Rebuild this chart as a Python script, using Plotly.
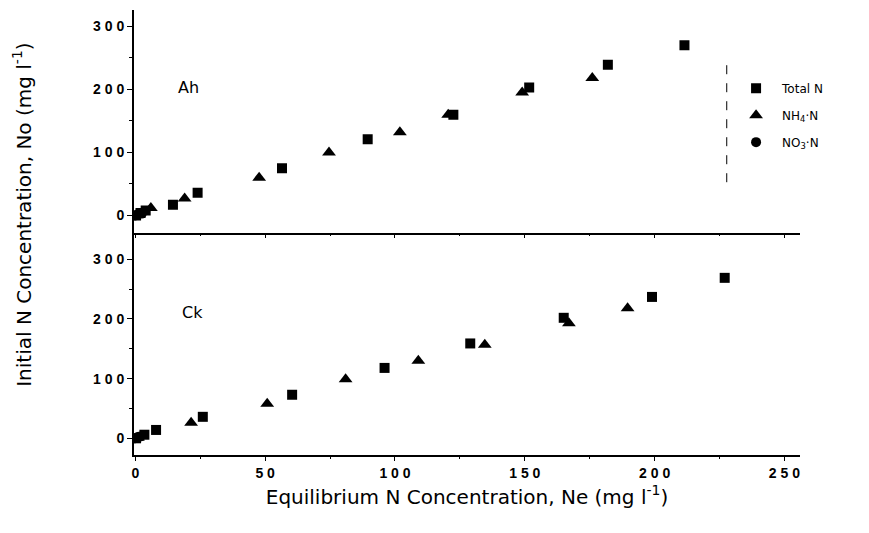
import plotly.graph_objects as go
from plotly.subplots import make_subplots

# Ah horizon: equilibrium (Ne) vs initial (No) N concentration, mg l-1
ah_total_ne = [0.3, 2.0, 4.0, 14.5, 24.0, 56.5, 89.5, 122.5, 151.7, 182.0, 211.5]
ah_total_no = [0, 4, 8, 17, 36, 75, 121, 160, 203, 239, 270]
ah_nh4_ne = [1.0, 6.0, 19.0, 47.7, 74.6, 101.9, 120.5, 149.0, 176.0]
ah_nh4_no = [1, 12, 27, 60, 100, 132, 160, 195, 218]
ah_no3_ne = [0.0, 1.0, 2.5]
ah_no3_no = [0, 2, 3]

# Ck horizon
ck_total_ne = [0.3, 3.5, 8.0, 26.0, 60.4, 96.0, 129.0, 165.0, 199.0, 227.0]
ck_total_no = [0, 6, 14, 36, 73, 118, 159, 202, 237, 269]
ck_nh4_ne = [1.0, 21.5, 50.8, 81.0, 109.0, 134.6, 167.0, 189.6]
ck_nh4_no = [1, 26, 58, 99, 130, 157, 193, 218]
ck_no3_ne = [0.0, 1.0, 2.0]
ck_no3_no = [0, 2, 3]

x_tick_vals = [0, 50, 100, 150, 200, 250]
x_tick_text = ["0", "5 0", "1 0 0", "1 5 0", "2 0 0", "2 5 0"]
y_tick_vals = [0, 100, 200, 300]
y_tick_text = ["0", "1 0 0", "2 0 0", "3 0 0"]

series_names = ["Total N", "NH<sub>4</sub>·N", "NO<sub>3</sub>·N"]
symbols = ["square", "triangle-up", "circle"]
sizes = [10, 12, 10]

fig = make_subplots(rows=2, cols=1, shared_xaxes=True, vertical_spacing=0)

panels = [
    (1, [(ah_total_ne, ah_total_no), (ah_nh4_ne, ah_nh4_no), (ah_no3_ne, ah_no3_no)]),
    (2, [(ck_total_ne, ck_total_no), (ck_nh4_ne, ck_nh4_no), (ck_no3_ne, ck_no3_no)]),
]
for row, series in panels:
    for i, (xs, ys) in enumerate(series):
        fig.add_trace(
            go.Scatter(
                x=xs, y=ys, mode="markers",
                name=series_names[i],
                legendgroup=f"g{i}",
                showlegend=(row == 1),
                marker=dict(symbol=symbols[i], size=sizes[i], color="black",
                            line=dict(width=0)),
            ),
            row=row, col=1,
        )

tick_font = dict(family="Liberation Sans, Arial", size=14, color="black", weight=600)
common_x = dict(
    range=[-0.5, 256], showline=True, linecolor="black", linewidth=1.5,
    ticks="outside", ticklen=4, tickcolor="black", tickwidth=1.2,
    tickvals=x_tick_vals, ticktext=x_tick_text,
    minor=dict(dtick=25, ticks="outside", ticklen=2, tickcolor="black"),
    showgrid=False, zeroline=False, tickfont=tick_font,
)
common_y = dict(
    showline=True, linecolor="black", linewidth=2,
    ticks="outside", ticklen=5, tickcolor="black", tickwidth=1.2,
    tickvals=y_tick_vals, ticktext=y_tick_text,
    minor=dict(dtick=50, tick0=0, ticks="outside", ticklen=3, tickcolor="black"),
    showgrid=False, zeroline=False, tickfont=tick_font,
)

title_font = dict(family="DejaVu Sans", size=20, color="black")

fig.update_xaxes(**common_x)
fig.update_xaxes(showticklabels=False, row=1, col=1)
fig.update_xaxes(
    title=dict(text="Equilibrium N Concentration, Ne (mg l<sup>-1</sup>)",
               font=title_font, standoff=10),
    row=2, col=1,
)
fig.update_yaxes(**common_y)
fig.update_yaxes(range=[-27, 326], row=1, col=1)
fig.update_yaxes(range=[-28, 345], row=2, col=1)

fig.update_layout(
    width=869, height=533,
    margin=dict(l=134, r=69, t=10, b=78),
    paper_bgcolor="white", plot_bgcolor="white",
    showlegend=True,
    legend=dict(
        x=0.895, y=0.857, xanchor="left", yanchor="top",
        font=dict(family="DejaVu Sans", size=12, color="black"),
        bgcolor="rgba(0,0,0,0)", tracegroupgap=8, itemwidth=42,
    ),
    annotations=[
        dict(text="Ah", x=20.4, y=203, xref="x", yref="y", showarrow=False,
             font=dict(family="DejaVu Sans", size=16, color="black")),
        dict(text="Ck", x=22, y=211, xref="x2", yref="y2", showarrow=False,
             font=dict(family="DejaVu Sans", size=16, color="black")),
        dict(text="Initial N Concentration, No (mg l<sup>-1</sup>)",
             x=-0.168, y=0.54, xref="paper", yref="paper", textangle=-90,
             showarrow=False, xanchor="center", yanchor="middle",
             font=title_font),
    ],
    shapes=[
        dict(type="line", xref="paper", yref="paper", x0=0.89, x1=0.89,
             y0=0.613, y1=0.876, line=dict(color="black", width=1, dash="dash")),
    ],
)

fig.write_html("out.html")
